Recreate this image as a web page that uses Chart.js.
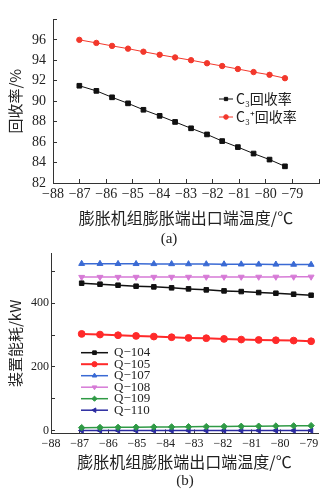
<!DOCTYPE html>
<html>
<head>
<meta charset="utf-8">
<script src="https://cdn.jsdelivr.net/npm/chart.js@4/dist/chart.umd.min.js"></script>
<style>
  body { margin: 0; background: #fff; width: 326px; height: 493px; position: relative; overflow: hidden;
         font-family: 'Liberation Serif', 'Noto Sans CJK SC', serif; color: #222; }
  #wrapA { position: absolute; left: 0; top: 0; width: 326px; height: 240px; }
  #wrapB { position: absolute; left: 0; top: 240px; width: 326px; height: 253px; }
  .cap { position: absolute; font-size: 15px; width: 40px; text-align: center; line-height: 18px; }
</style>
</head>
<body>
<div id="wrapA"><canvas id="chartA"></canvas></div>
<div id="wrapB"><canvas id="chartB"></canvas></div>
<div class="cap" style="left:149px;top:229px">(a)</div>
<div class="cap" style="left:165px;top:471px">(b)</div>
<script>
// (a) 回收率
const tempA = [-87.01, -86.37, -85.78, -85.18, -84.60, -83.99, -83.41, -82.81, -82.21, -81.64, -81.05, -80.46, -79.86, -79.28];
const c3Rec = [91.51, 91.01, 90.38, 89.79, 89.16, 88.57, 87.97, 87.35, 86.75, 86.10, 85.51, 84.88, 84.29, 83.63];
const c3PlusRec = [96.00, 95.70, 95.41, 95.14, 94.84, 94.54, 94.28, 94.01, 93.71, 93.44, 93.15, 92.85, 92.58, 92.25];
const namesA = ['C₃回收率', 'C₃⁺回收率'];

// (b) 装置能耗
const tempB = [-86.93, -86.29, -85.66, -85.03, -84.41, -83.79, -83.20, -82.58, -81.96, -81.36, -80.75, -80.15, -79.53, -78.92];
const q104 = [462.8, 459.7, 456.5, 453.4, 451.3, 448.2, 445.0, 441.9, 438.7, 436.6, 433.5, 431.4, 428.3, 425.1];
const q105 = [303.7, 301.6, 299.5, 297.4, 295.3, 293.2, 291.1, 290.1, 288.0, 285.9, 284.8, 283.8, 282.7, 280.6];
const q107 = [524.0, 524.0, 523.8, 523.6, 523.4, 523.2, 523.0, 522.8, 522.5, 522.3, 522.0, 521.8, 521.5, 521.2];
const q108 = [482.0, 482.1, 482.1, 482.2, 482.2, 482.3, 482.3, 482.4, 482.4, 482.5, 482.5, 482.6, 482.7, 482.8];
const q109 = [9.4, 9.9, 10.3, 10.8, 11.3, 11.7, 12.2, 12.6, 13.1, 13.6, 14.0, 14.5, 15.0, 15.7];
const q110 = [0.3, 0.3, 0.3, 0.3, 0.3, 0.3, 0.3, 0.3, 0.3, 0.3, 0.3, 0.3, 0.3, 0.3];
const namesB = ['Q−104', 'Q−105', 'Q−107', 'Q−108', 'Q−109', 'Q−110'];

const NUM_FONT = "'Liberation Serif', 'Noto Sans CJK SC', serif";
const CJK_FONT = "'Noto Sans CJK SC', 'Liberation Serif', sans-serif";
const AXIS = '#333';

const pts = (xs, ys) => xs.map((x, i) => ({ x: x, y: ys[i] }));
const minus = v => String(v).replace('-', '\u2212');

// 图例：线段 + 标记 + 文字
const lineLegend = {
  id: 'lineLegend',
  afterDatasetsDraw(chart, args, o) {
    const ctx = chart.ctx;
    ctx.save();
    ctx.font = o.font;
    ctx.textBaseline = 'middle';
    chart.data.datasets.forEach((ds, i) => {
      const y = o.y + i * o.gap;
      ctx.strokeStyle = ds.borderColor;
      ctx.lineWidth = ds.borderWidth;
      ctx.beginPath();
      ctx.moveTo(o.x, y);
      ctx.lineTo(o.x + o.len, y);
      ctx.stroke();
      ctx.fillStyle = ds.borderColor;
      ctx.lineWidth = 1;
      Chart.helpers.drawPoint(ctx, {
        pointStyle: ds.pointStyle, radius: o.r, rotation: ds.pointRotation || 0, borderWidth: 1
      }, o.x + o.len / 2, y);
      ctx.fillStyle = o.color;
      ctx.fillText(ds.label, o.x + o.len + o.textGap, y);
    });
    ctx.restore();
  }
};

function series(label, data, color, style, r, width, rot) {
  return {
    label: label, data: data, borderColor: color, backgroundColor: color,
    pointBackgroundColor: color, pointBorderColor: color, pointStyle: style,
    pointRadius: r, pointRotation: rot || 0, borderWidth: width, pointBorderWidth: 1, tension: 0
  };
}

function axisX(min, max, tickPad, titlePadBottom, height, fontSize) {
  return {
    type: 'linear', min: min, max: max,
    ticks: {
      stepSize: 1, includeBounds: false, color: '#222', padding: tickPad, maxRotation: 0, autoSkip: false,
      font: { family: NUM_FONT, size: fontSize },
      callback: v => (v > -78.9 ? '' : minus(v))
    },
    grid: { drawOnChartArea: false, drawTicks: true, tickLength: -4, color: AXIS },
    border: { color: AXIS, width: 1 },
    title: {
      display: true, text: '膨胀机组膨胀端出口端温度/℃', color: '#222',
      font: { family: CJK_FONT, size: 16 }, padding: { top: 0, bottom: titlePadBottom }
    },
    afterFit: s => { s.height = height; }
  };
}

new Chart(document.getElementById('chartA'), {
  type: 'line',
  data: {
    datasets: [
      series(namesA[0], pts(tempA, c3Rec), '#111', 'rect', 3.3, 1),
      series(namesA[1], pts(tempA, c3PlusRec), '#f2382c', 'circle', 2.7, 1)
    ]
  },
  options: {
    responsive: true, maintainAspectRatio: false, animation: false,
    layout: { padding: { top: 3, right: 4, left: 0, bottom: 0 } },
    plugins: {
      legend: { display: false }, tooltip: { enabled: false },
      lineLegend: { x: 219, y: 99, gap: 18, len: 14, r: 2.3, textGap: 3, color: '#222',
                    font: "14px " + CJK_FONT }
    },
    scales: {
      x: axisX(-88, -78, 7, 12, 57, 14),
      y: {
        min: 82, max: 98,
        ticks: { stepSize: 2, color: '#222', padding: 11, font: { family: NUM_FONT, size: 14 },
                 callback: v => (v >= 98 ? '' : minus(v)) },
        grid: { drawOnChartArea: false, drawTicks: true, tickLength: -4, color: AXIS },
        border: { color: AXIS, width: 1 },
        title: { display: true, text: '回收率/%', color: '#222', font: { family: CJK_FONT, size: 15 },
                 padding: { top: 6, bottom: 0 } },
        afterFit: s => { s.width = 53; }
      }
    }
  },
  plugins: [lineLegend]
});

new Chart(document.getElementById('chartB'), {
  type: 'line',
  data: {
    datasets: [
      series(namesB[0], pts(tempB, q104), '#111', 'rect', 3.2, 1.5),
      series(namesB[1], pts(tempB, q105), '#ff2a2a', 'circle', 3.4, 2),
      series(namesB[2], pts(tempB, q107), '#3a6ad4', 'triangle', 3.4, 1.5),
      series(namesB[3], pts(tempB, q108), '#d67ad6', 'triangle', 3.4, 1.5, 180),
      series(namesB[4], pts(tempB, q109), '#2f9a45', 'rectRot', 3.2, 1.5),
      series(namesB[5], pts(tempB, q110), '#2a2aa0', 'triangle', 3.2, 1.5, 270)
    ]
  },
  options: {
    responsive: true, maintainAspectRatio: false, animation: false,
    layout: { padding: { top: 13, right: 8, left: 0, bottom: 0 } },
    plugins: {
      legend: { display: false }, tooltip: { enabled: false },
      lineLegend: { x: 81, y: 112.7, gap: 11.5, len: 27, r: 2.6, textGap: 6, color: '#222',
                    font: "13px " + NUM_FONT }
    },
    scales: {
      x: axisX(-88, -78.68, 7, 21, 59.5, 12),
      y: {
        min: -9, max: 557,
        ticks: { stepSize: 100, includeBounds: false, color: '#222', padding: 6,
                 font: { family: NUM_FONT, size: 12 },
                 callback: v => (v % 200 === 0 ? minus(v) : '') },
        grid: { drawOnChartArea: false, drawTicks: true, tickLength: -4, color: AXIS },
        border: { color: AXIS, width: 1 },
        title: { display: true, text: '装置能耗/kW', color: '#222', font: { family: CJK_FONT, size: 15 },
                 padding: { top: 6, bottom: 0 } },
        afterFit: s => { s.width = 51; }
      }
    }
  },
  plugins: [lineLegend]
});
</script>
</body>
</html>
